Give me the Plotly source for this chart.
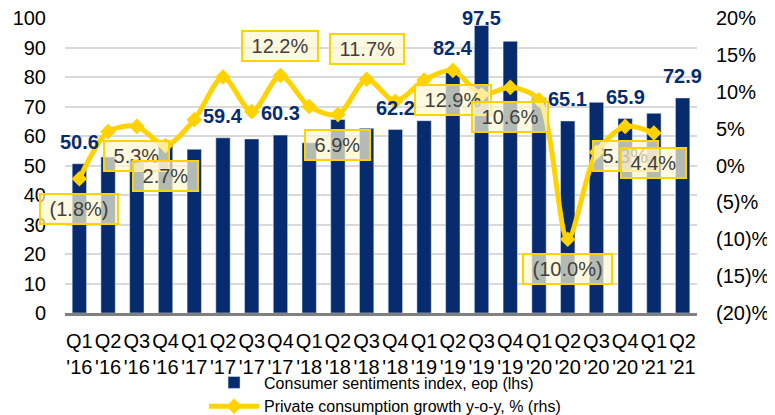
import plotly.graph_objects as go

# Data
QUARTERS = ["Q1<br>'16", "Q2<br>'16", "Q3<br>'16", "Q4<br>'16",
            "Q1<br>'17", "Q2<br>'17", "Q3<br>'17", "Q4<br>'17",
            "Q1<br>'18", "Q2<br>'18", "Q3<br>'18", "Q4<br>'18",
            "Q1<br>'19", "Q2<br>'19", "Q3<br>'19", "Q4<br>'19",
            "Q1<br>'20", "Q2<br>'20", "Q3<br>'20", "Q4<br>'20",
            "Q1<br>'21", "Q2<br>'21"]
SENTIMENT = [50.6, 52.9, 52.0, 57.0, 55.5, 59.4, 59.0, 60.3, 57.7, 65.6, 62.6,
             62.2, 65.2, 82.4, 97.5, 92.1, 73.0, 65.1, 71.4, 65.9, 67.7, 72.9]
SENTIMENT_LABELLED = [True, False, False, False, False, True, False, True,
                      False, False, False, True, False, True, True, False,
                      False, True, False, True, False, True]
CONSUMPTION = [-1.8, 4.6, 5.3, 2.7, 6.2, 12.0, 7.3, 12.2, 8.0, 6.9, 11.7,
               8.7, 11.6, 12.9, 9.6, 10.6, 8.9, -10.0, 1.8, 5.3, 4.4, None]
CONSUMPTION_LABELLED = [True, False, True, True, False, False, False, True,
                        False, True, True, False, False, True, False, True,
                        False, True, False, True, True, False]
CONSUMPTION_ABOVE = [False, False, False, False, False, False, False, True,
                     False, False, True, False, False, False, False, False,
                     False, False, False, False, False, False]
RHS_TICKS = [-20, -15, -10, -5, 0, 5, 10, 15, 20]
RHS_TICKTEXT = ["(20)%", "(15)%", "(10)%", "(5)%", "0%", "5%", "10%", "15%", "20%"]

_NAVY = "#062C6F"
_YELLOW = "#FFD200"
_GRID = "#D9D9D9"
_FONT = "Liberation Sans, Arial, sans-serif"


def pct(v):
    return f"({abs(v):.1f}%)" if v < 0 else f"{v:.1f}%"


fig = go.Figure()
fig.add_trace(go.Bar(
    x=QUARTERS, y=SENTIMENT, name="Consumer sentiments index, eop (lhs)",
    marker_color=_NAVY, width=0.5,
))
fig.add_trace(go.Scatter(
    x=QUARTERS, y=CONSUMPTION, yaxis="y2", mode="lines+markers",
    name="Private consumption growth y-o-y, % (rhs)",
    line=dict(color=_YELLOW, width=5, shape="spline", smoothing=0.8),
    marker=dict(symbol="diamond", size=12, color=_YELLOW),
))

annotations = []
# bar value labels (the tallest one is squeezed under the top edge)
for q, v, show in zip(QUARTERS, SENTIMENT, SENTIMENT_LABELLED):
    if show:
        annotations.append(dict(
            x=q, y=v, xref="x", yref="y", text=f"<b>{v:.1f}</b>",
            showarrow=False, yanchor="bottom", yshift=9 if v < 95 else -6,
            font=dict(family=_FONT, size=20, color=_NAVY),
        ))
# growth labels in boxes
for q, v, show, above in zip(QUARTERS, CONSUMPTION, CONSUMPTION_LABELLED, CONSUMPTION_ABOVE):
    if show:
        annotations.append(dict(
            x=q, y=v, xref="x", yref="y2", text="&nbsp;" + pct(v) + "&nbsp;",
            showarrow=False, yshift=30 if above else -30,
            font=dict(family=_FONT, size=20, color="#404040"),
            bgcolor="rgba(255,246,210,0.7)", bordercolor=_YELLOW,
            borderwidth=2, borderpad=3,
        ))

# page has an 8px body margin, so the figure is sized to fit the window
fig.update_layout(
    width=767, height=407,
    plot_bgcolor="white", paper_bgcolor="white",
    font=dict(family=_FONT, size=20, color="black"),
    margin=dict(l=57, r=78, t=10, b=102, autoexpand=False),
    bargap=0.5,
    showlegend=True,
    legend=dict(orientation="v", x=0.22, xanchor="left", y=-0.178, yanchor="top",
                font=dict(size=16), itemwidth=50, tracegroupgap=0,
                bgcolor="rgba(0,0,0,0)"),
    annotations=annotations,
    xaxis=dict(range=[-0.5, 21.5], showline=True, linecolor="#808080",
               linewidth=3, tickangle=0, ticks="", showgrid=False,
               ticklabelstandoff=8, automargin=False),
    yaxis=dict(range=[0, 100], dtick=10, showgrid=True, gridcolor=_GRID,
               gridwidth=1.5, zeroline=False, ticks="", ticklabelstandoff=18,
               ticklabeloverflow="allow", automargin=False),
    yaxis2=dict(range=[-20, 20], overlaying="y", side="right",
                tickvals=RHS_TICKS, ticktext=RHS_TICKTEXT, showgrid=False,
                zeroline=False, ticks="", ticklabelstandoff=18,
                ticklabeloverflow="allow", automargin=False),
)

fig.write_html("out.html")
